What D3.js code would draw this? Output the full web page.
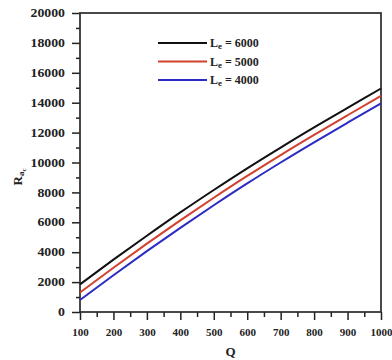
<!DOCTYPE html>
<html>
<head>
<meta charset="utf-8">
<script src="https://cdn.jsdelivr.net/npm/d3@7"></script>
<style>
  body { margin: 0; background: #fff; }
  svg text { font-family: "Liberation Serif", "Times New Roman", serif; font-weight: bold; fill: #222; }
</style>
</head>
<body>
<div id="chart"></div>
<script>
// data
const qValues = [100, 200, 300, 400, 500, 600, 700, 800, 900, 1000];
const le6000 = [1850, 3500, 5100, 6660, 8160, 9610, 11000, 12350, 13650, 14950];
const le5000 = [1300, 2960, 4570, 6130, 7640, 9100, 10500, 11850, 13160, 14450];
const le4000 = [800, 2460, 4070, 5630, 7140, 8600, 10000, 11350, 12660, 13950];
const seriesNames = ["6000", "5000", "4000"];
const seriesColors = ["#111111", "#d2412e", "#2c2cc4"];
const xTicks = [100, 200, 300, 400, 500, 600, 700, 800, 900, 1000];
const yTicks = [0, 2000, 4000, 6000, 8000, 10000, 12000, 14000, 16000, 18000, 20000];

const width = 392, height = 360;
const margin = { left: 80, right: 11, top: 13, bottom: 48 };

const svg = d3.select("#chart").append("svg")
  .attr("width", width)
  .attr("height", height);

const x = d3.scaleLinear().domain([100, 1000]).range([margin.left, width - margin.right]);
const y = d3.scaleLinear().domain([0, 20000]).range([height - margin.bottom, margin.top]);

// minor ticks
const xMinor = d3.range(150, 1000, 100);
const yMinor = d3.range(1000, 20000, 2000);

svg.append("g")
  .attr("transform", "translate(0," + y(0) + ")")
  .call(d3.axisBottom(x).tickValues(xMinor).tickSize(5).tickFormat(""))
  .call(g => g.select(".domain").remove())
  .selectAll("line").attr("stroke", "#222").attr("stroke-width", 1.5);

svg.append("g")
  .attr("transform", "translate(" + x(100) + ",0)")
  .call(d3.axisLeft(y).tickValues(yMinor).tickSize(4).tickFormat(""))
  .call(g => g.select(".domain").remove())
  .selectAll("line").attr("stroke", "#222").attr("stroke-width", 1.5);

// major ticks
const xa = svg.append("g")
  .attr("transform", "translate(0," + y(0) + ")")
  .call(d3.axisBottom(x).tickValues(xTicks).tickSize(8).tickPadding(8).tickFormat(d3.format("d")));
xa.select(".domain").remove();
xa.selectAll("line").attr("stroke", "#222").attr("stroke-width", 1.5);
xa.selectAll("text").attr("font-size", 11).attr("fill", "#222");

const ya = svg.append("g")
  .attr("transform", "translate(" + x(100) + ",0)")
  .call(d3.axisLeft(y).tickValues(yTicks).tickSize(8).tickPadding(7).tickFormat(d3.format("d")));
ya.select(".domain").remove();
ya.selectAll("line").attr("stroke", "#222").attr("stroke-width", 1.5);
ya.selectAll("text").attr("font-size", 11.5).attr("fill", "#222")
  .attr("textLength", d => String(d).length * 6.9)
  .attr("lengthAdjust", "spacingAndGlyphs");

// frame
svg.append("rect")
  .attr("x", x(100)).attr("y", y(20000))
  .attr("width", x(1000) - x(100)).attr("height", y(0) - y(20000))
  .attr("fill", "none").attr("stroke", "#2a2a2a").attr("stroke-width", 1.7);

// curves
const allSeries = [le6000, le5000, le4000];
const line = d3.line()
  .x((d, i) => x(qValues[i]))
  .y(d => y(d))
  .curve(d3.curveMonotoneX);

svg.append("g").selectAll("path")
  .data(allSeries)
  .join("path")
  .attr("d", d => line(d))
  .attr("fill", "none")
  .attr("stroke", (d, i) => seriesColors[i])
  .attr("stroke-width", 2);

// legend
const leg = svg.append("g").attr("transform", "translate(158,43)");
seriesNames.forEach((name, i) => {
  const row = leg.append("g").attr("transform", "translate(0," + (i * 18.5) + ")");
  row.append("line")
    .attr("x1", 0).attr("x2", 49)
    .attr("stroke", seriesColors[i]).attr("stroke-width", 2);
  const t = row.append("text").attr("x", 52).attr("y", 4).attr("font-size", 12);
  t.append("tspan").text("L");
  t.append("tspan").attr("font-size", 9).attr("dy", 2).text("e");
  t.append("tspan").attr("dy", -2).text(" = " + name);
});

// axis titles
svg.append("text")
  .attr("x", (x(100) + x(1000)) / 2)
  .attr("y", 356)
  .attr("text-anchor", "middle")
  .attr("font-size", 13)
  .text("Q");

const yt = svg.append("text")
  .attr("transform", "translate(22,177) rotate(-90)")
  .attr("text-anchor", "middle")
  .attr("font-size", 13);
yt.append("tspan").text("R");
yt.append("tspan").attr("font-size", 9).attr("dy", 2).text("a");
yt.append("tspan").attr("font-size", 7).attr("dy", 2).text("c");
</script>
</body>
</html>
